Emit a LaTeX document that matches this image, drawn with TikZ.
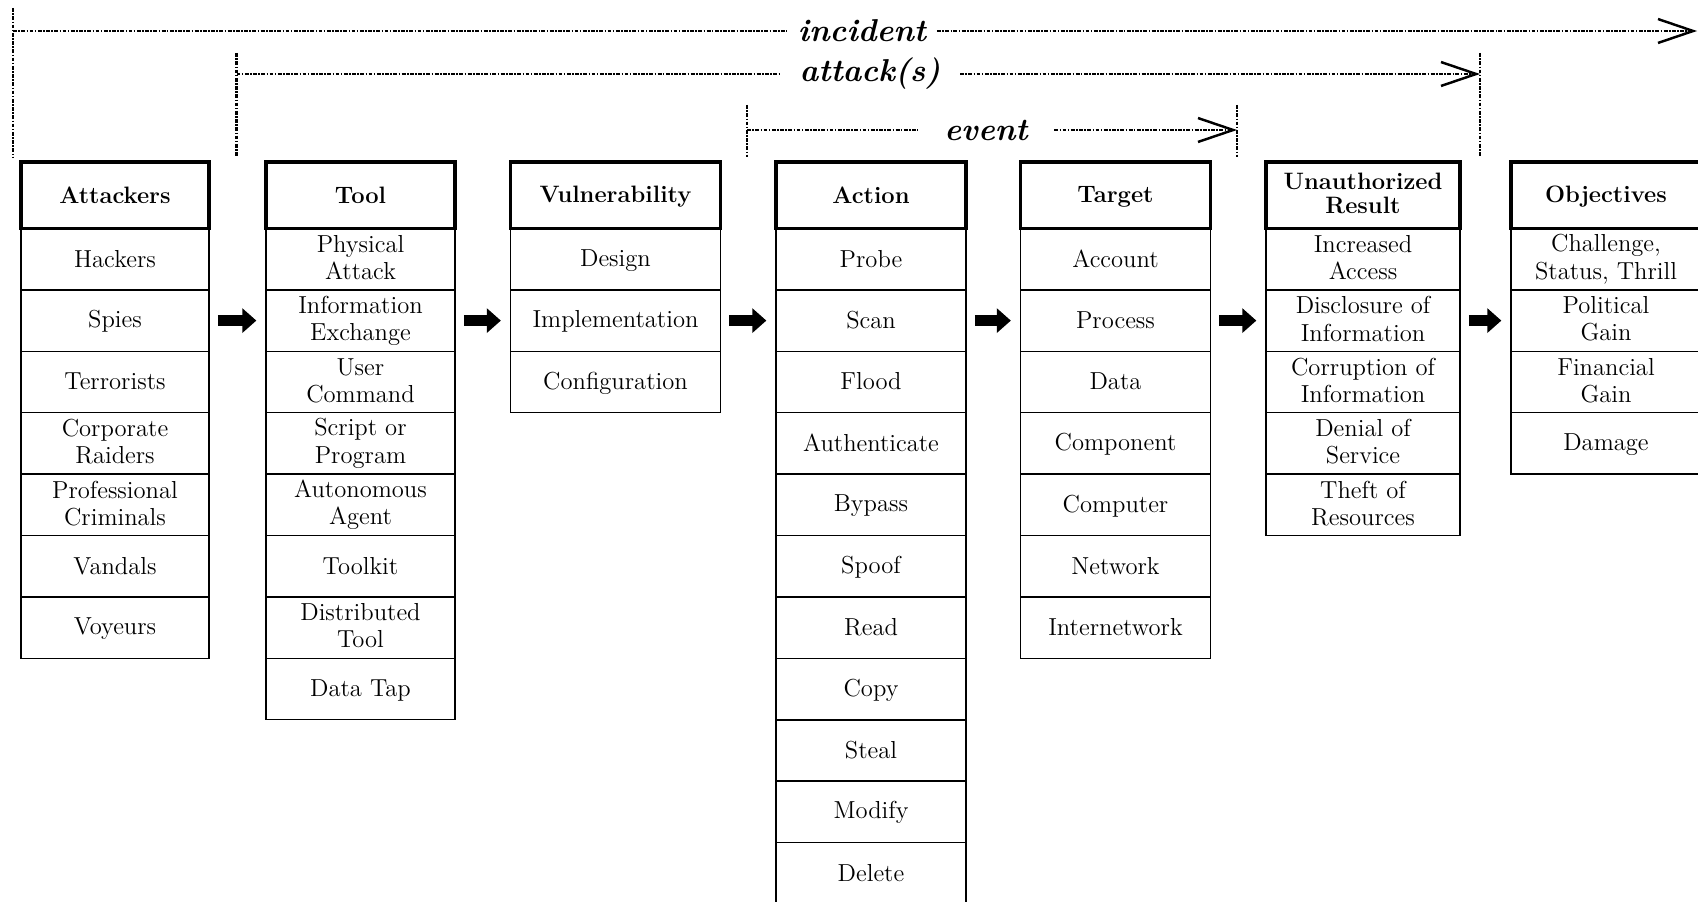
\documentclass[tikz,border=0pt]{standalone}
\usepackage{tikz}
\usetikzlibrary{arrows.meta}
\usetikzlibrary{positioning}
\newcommand\cellstrut{\rule[-2pt]{0pt}{13pt}}
\newcommand\headstrut{\rule[-1pt]{0pt}{12pt}}
\tikzset{cell/.style = {draw, line width=0.9pt, inner sep=0pt, outer sep=0pt,
                        minimum height=1.228cm, align=center,
                        execute at begin node=\cellstrut, execute at end node=\cellstrut,
                        font=\fontsize{14}{15.5}\selectfont},
         head/.style = {cell, line width=2.2pt, minimum height=1.33cm,
                        execute at begin node=\headstrut, execute at end node=\headstrut,
                        font=\fontsize{13.5}{13.5}\bfseries\selectfont},
         flow/.style = {line width=6.2pt, -{Triangle[length=8pt, width=13.6pt]},
                        shorten <=5pt, shorten >=5.5pt},
         spanline/.style = {line width=1.6pt,
                            dash pattern=on 2.2pt off 0.8pt on 0.9pt off 0.8pt},
         spanarrow/.style = {spanline, -{Straight Barb[length=20pt, width=13.6pt, line width=1.4pt]}},
         spantext/.style = {inner ysep=0pt, font=\fontsize{18}{18}\bfseries\itshape\selectfont}}

\begin{document}
\begin{tikzpicture}[x=0.02cm, y=-0.02cm]
    \useasboundingbox (0, 0) rectangle (1698, 902);

    % columns
    \foreach \txt [count=\i] in {Hackers, Spies, Terrorists, {Corporate\\Raiders},
                                 {Professional\\Criminals}, Vandals, Voyeurs}
      \node [cell, minimum width=3.76cm] (att\i) at (115, {228.5 + 61.4*(\i - 0.5)}) {\txt};
    \node [head, minimum width=3.76cm] (att) at (115, 195.3) {Attackers};

    \foreach \txt [count=\i] in {{Physical\\Attack}, {Information\\Exchange}, {User\\Command},
                                 {Script or\\Program}, {Autonomous\\Agent}, Toolkit,
                                 {Distributed\\Tool}, Data Tap}
      \node [cell, minimum width=3.78cm] (tool\i) at (360.5, {228.5 + 61.4*(\i - 0.5)}) {\txt};
    \node [head, minimum width=3.78cm] (tool) at (360.5, 195.3) {Tool};

    \foreach \txt [count=\i] in {Design, Implementation, Configuration}
      \node [cell, minimum width=4.2cm] (vul\i) at (615.5, {228.5 + 61.4*(\i - 0.5)}) {\txt};
    \node [head, minimum width=4.2cm] (vul) at (615.5, 195.3) {Vulnerability};

    \foreach \txt [count=\i] in {Probe, Scan, Flood, Authenticate, Bypass, Spoof,
                                 Read, Copy, Steal, Modify, Delete}
      \node [cell, minimum width=3.8cm] (act\i) at (871, {228.5 + 61.4*(\i - 0.5)}) {\txt};
    \node [head, minimum width=3.8cm] (act) at (871, 195.3) {Action};

    \foreach \txt [count=\i] in {Account, Process, Data, Component, Computer,
                                 Network, Internetwork}
      \node [cell, minimum width=3.8cm] (tgt\i) at (1115.5, {228.5 + 61.4*(\i - 0.5)}) {\txt};
    \node [head, minimum width=3.8cm] (tgt) at (1115.5, 195.3) {Target};

    \foreach \txt [count=\i] in {{Increased\\Access}, {Disclosure of\\Information},
                                 {Corruption of\\Information}, {Denial of\\Service},
                                 {Theft of\\Resources}}
      \node [cell, minimum width=3.88cm] (res\i) at (1363, {228.5 + 61.4*(\i - 0.5)}) {\txt};
    \node [head, minimum width=3.88cm] (res) at (1363, 195.3) {Unauthorized\\Result};

    \foreach \txt [count=\i] in {{Challenge,\\Status, Thrill}, {Political\\Gain},
                                 {Financial\\Gain}, Damage}
      \node [cell, minimum width=3.8cm] (obj\i) at (1606, {228.5 + 61.4*(\i - 0.5)}) {\txt};
    \node [head, minimum width=3.8cm] (obj) at (1606, 195.3) {Objectives};

    % flow between columns
    \foreach \a/\b in {att/tool, tool/vul, vul/act, act/tgt, tgt/res, res/obj}
      \draw [flow] (\a2.east) -- (\b2.west);

    % incident
    \coordinate (incL) at (13, 31);
    \coordinate (incR) at (1697, 31);
    \node [spantext, inner xsep=6pt] (inc) at (862, 31) {incident};
    \draw [spanline] (13, 8) -- (13, 157);
    \draw [spanline] (incL) -- (inc.west);
    \draw [spanarrow] (inc.east) -- (incR);

    % attack(s)
    \coordinate (atkL) at (236.5, 74);
    \coordinate (atkR) at (1480, 74);
    \node [spantext, inner xsep=11pt] (atk) at (870, 74) {attack(s)};
    \draw [spanline] (236.5, 53) -- (236.5, 157);
    \draw [spanline] (1480, 53) -- (1480, 157);
    \draw [spanline] (atkL) -- (atk.west);
    \draw [spanarrow] (atk.east) -- (atkR);

    % event
    \coordinate (evtL) at (747, 130);
    \coordinate (evtR) at (1237, 130);
    \node [spantext, inner xsep=15pt] (evt) at (986, 130) {event};
    \draw [spanline] (747, 105) -- (747, 157);
    \draw [spanline] (1237, 105) -- (1237, 157);
    \draw [spanline] (evtL) -- (evt.west);
    \draw [spanarrow] (evt.east) -- (evtR);
  \end{tikzpicture}
\end{document}
